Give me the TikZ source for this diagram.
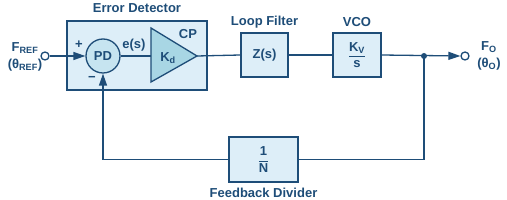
\documentclass[tikz,border=0pt]{standalone}
\usepackage{fontspec}
\setmainfont{Liberation Sans}
\usetikzlibrary{arrows.meta}
\definecolor{dk}{HTML}{1E4D78}
\definecolor{lt}{HTML}{DDEEF8}
\definecolor{trif}{HTML}{A8D6E4}
\definecolor{pdf}{HTML}{C6E4F0}
\begin{document}
\begin{tikzpicture}[x=1pt,y=-1pt,
  lbl/.style={text=dk,font=\bfseries\fontsize{13}{17}\selectfont,inner sep=0},
  inl/.style={text=dk,font=\bfseries\fontsize{13}{15}\selectfont,inner sep=0},
  blk/.style={draw=dk,fill=lt,line width=1.3pt,inner sep=0,text=dk,font=\bfseries\fontsize{13}{15}\selectfont},
  wire/.style={draw=dk,line width=1.3pt},
  arr/.style={wire,-{Triangle[length=12pt,width=8pt]}},
  port/.style={circle,draw=dk,fill=white,line width=1.3pt,minimum size=8pt,inner sep=0},
]
\useasboundingbox (0,0) rectangle (507,200);
\fill[white] (0,0) rectangle (507,200);

% error detector frame
\node[draw=dk,fill=lt,line width=1.9pt,minimum width=140pt,minimum height=69pt,inner sep=0] (ed) at (137,55.5) {};
\node[lbl] (edl) at (137,8) {Error Detector};

% PD
\node[circle,draw=dk,fill=pdf,line width=1.3pt,minimum size=34pt,inner sep=0,text=dk,font=\bfseries\fontsize{13}{15}\selectfont] (pd) at (103,56) {PD};

% charge pump triangle
\coordinate (tt) at (151,28);
\coordinate (tb) at (151,82);
\coordinate (tw) at (151,56);
\coordinate (te) at (197,56);
\filldraw[draw=dk,fill=trif,line width=1.3pt,line join=miter] (tt) -- (te) -- (tb) -- cycle;
\node[inl] (kd) at (168,58) {K\textsubscript{d}};
\node[lbl] (cp) at (188,34) {CP};
\node[inl] (es) at (134,45) {e(s)};
\node[inl] (plus) at (79,45) {+};
\node[inl] (minus) at (92,79) {\textminus};

% blocks
\node[blk,minimum width=47pt,minimum height=44pt] (lf) at (264.5,55) {Z(s)};
\node[lbl] (lfl) at (264.5,22) {Loop Filter};
\node[blk,minimum width=48pt,minimum height=44pt] (vco) at (357,55) {$\displaystyle\frac{\mbox{K\textsubscript{V}}}{\mbox{s}}$};
\node[lbl] (vcol) at (357,22) {VCO};
\node[blk,minimum width=69pt,minimum height=45pt] (div) at (263.5,159.5) {$\displaystyle\frac{\mbox{1}}{\mbox{N}}$};
\node[lbl] (divl) at (263.5,193) {Feedback Divider};

% ports
\node[port] (in) at (45,56) {};
\node[port] (out) at (465,56) {};
\node[lbl,align=center] (inl) at (25,57) {F\textsubscript{REF}\\(θ\textsubscript{REF})};
\node[lbl,align=center] (outl) at (489,56) {F\textsubscript{O}\\(θ\textsubscript{O})};

% junction
\coordinate (j) at (424,56);
\coordinate (jb) at (424,159.5);
\coordinate (pb) at (103,159.5);

% wires
\draw[arr] (in) -- (pd.west);
\draw[wire] (pd.east) -- (tw);
\draw[wire] (te) -- (lf.west);
\draw[wire] (lf.east) -- (vco.west);
\draw[arr] (vco.east) -- (out.west);
\draw[wire] (j) -- (jb) -- (div.east);
\draw[arr] (div.west) -- (pb) -- (pd.south);
\fill[dk] (j) circle (3pt);
\end{tikzpicture}
\end{document}
